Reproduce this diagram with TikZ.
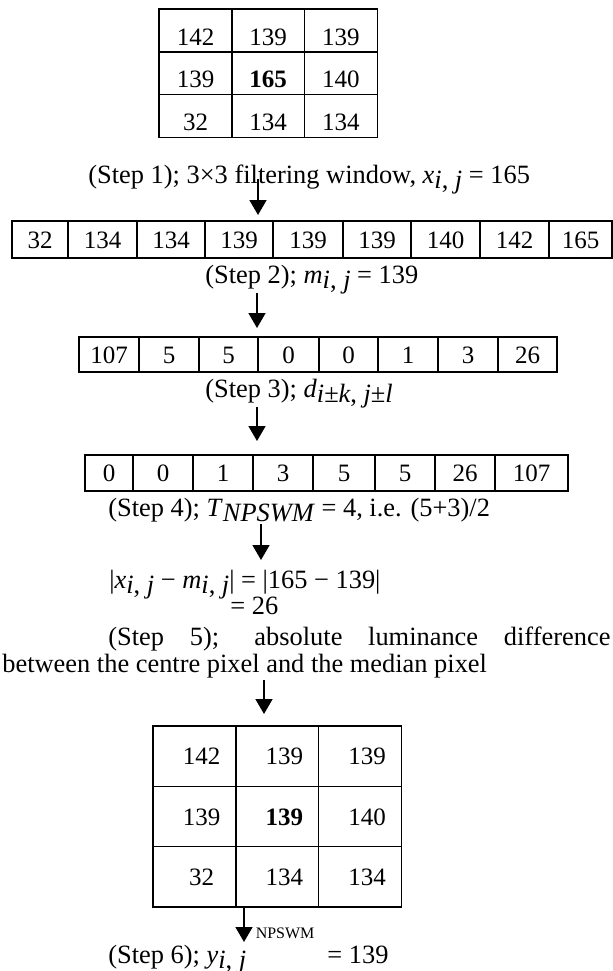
\documentclass[tikz,border=0pt]{standalone}
\usepackage{fontspec}
\setmainfont{Liberation Serif}
\usetikzlibrary{arrows.meta,positioning}

\tikzset{
  cell/.style={draw, line width=0.75pt, inner sep=0pt, text height=8.5pt, text depth=0pt, font=\fontsize{12.5}{15}\selectfont},
  flow/.style={-{Triangle[width=8.5pt,length=7.5pt]}, line width=0.75pt},
  steptext/.style={anchor=base west, inner sep=0pt},
}
\newcommand{\lowsub}[1]{\raisebox{-2.5pt}{#1}}

\begin{document}
\begin{tikzpicture}[x=0.5pt, y=-0.5pt, font=\fontsize{13.2}{15}\selectfont]
\useasboundingbox (0,0) rectangle (613,971);

% 3x3 filtering window
\foreach \v [count=\i from 0] in {142,139,139,139,\textbf{165},140,32,134,134} {
  \pgfmathsetmacro\cx{195.5+72.7*mod(\i,3)}
  \pgfmathsetmacro\cy{30.5+42.7*int(\i/3)}
  \node[cell, minimum width=36.35pt, minimum height=21.35pt, text height=14.5pt] (win-\i) at (\cx,\cy) {\v};
}
\node[steptext] (s1) at (88,183) {(Step 1); 3×3 filtering window, \textit{x}\lowsub{\textit{i}, \textit{j}} = 165};

% sorted values
\foreach \l/\r/\v [count=\i] in {12/68/32,68/137/134,137/205/134,205/273/139,273/343/139,343/411/139,411/480/140,480/549/142,549/612/165}
  \node[cell, minimum width={(\r-\l)*0.5pt}, minimum height=18.5pt] (sort-\i) at ({(\l+\r)/2},239.5) {\v};
\node[steptext] (s2) at (205,283) {(Step 2); \textit{m}\lowsub{\textit{i}, \textit{j}} = 139};

% differences
\foreach \l/\r/\v [count=\i] in {79/139/107,139/199/5,199/258/5,258/319/0,319/378/0,378/438/1,438/498/3,498/557/26}
  \node[cell, minimum width={(\r-\l)*0.5pt}, minimum height=17.5pt] (diff-\i) at ({(\l+\r)/2},354.5) {\v};
\node[steptext] (s3) at (205,397) {(Step 3); \textit{d}\lowsub{\textit{i}±\textit{k}, \textit{j}±\textit{l}}};

% sorted differences
\foreach \l/\r/\v [count=\i] in {85/133/0,133/193/0,193/253/1,253/313/3,313/375/5,375/435/5,435/495/26,495/568/107}
  \node[cell, minimum width={(\r-\l)*0.5pt}, minimum height=18pt] (sdiff-\i) at ({(\l+\r)/2},473) {\v};
\node[steptext] (s4) at (108,516) {(Step 4); \textit{T}\lowsub{\textit{NPSWM}} = 4, i.e. (5+3)/2};

\node[steptext] (eq1) at (109,588) {|\textit{x}\lowsub{\textit{i}, \textit{j}} − \textit{m}\lowsub{\textit{i}, \textit{j}}| = |165 − 139|};
\node[steptext] (eq2) at (230,614) {= 26};

\node[steptext] (s5a) at (108,645) {\makebox[251pt][s]{(Step 5); absolute luminance difference}};
\node[steptext] (s5b) at (2,672) {between the centre pixel and the median pixel};

% output window
\foreach \v [count=\i from 0] in {142,139,139,139,\textbf{139},140,32,134,134} {
  \pgfmathsetmacro\cx{194.5+82.8*mod(\i,3)}
  \pgfmathsetmacro\cy{756.2+60.3*int(\i/3)}
  \node[cell, minimum width=41.4pt, minimum height=30.15pt, execute at begin node={\hspace*{7pt}}] (out-\i) at (\cx,\cy) {\v};
}
\node[steptext] (s6) at (108,963) {(Step 6); \textit{y}\lowsub{\textit{i}, \textit{j}}};
\node[steptext] (s6r) at (327,963) {= 139};

% arrows
\coordinate (a1s) at (258,179);  \coordinate (a1e) at (258,215);
\coordinate (a2s) at (257,293);  \coordinate (a2e) at (257,328);
\coordinate (a3s) at (257,407);  \coordinate (a3e) at (257,441);
\coordinate (a4s) at (261,524);  \coordinate (a4e) at (261,560);
\coordinate (a5s) at (264,680);  \coordinate (a5e) at (264,714);
\coordinate (a6s) at (244,907);  \coordinate (a6e) at (244,942);
\draw[flow] (a1s) -- (a1e);
\draw[flow] (a2s) -- (a2e);
\draw[flow] (a3s) -- (a3e);
\draw[flow] (a4s) -- (a4e);
\draw[flow] (a5s) -- (a5e);
\draw[flow] (a6s) -- (a6e) node[anchor=base west, inner sep=0pt, xshift=5.5pt, yshift=2pt, font=\fontsize{8}{9}\selectfont] (npswm) {NPSWM};
\end{tikzpicture}
\end{document}
